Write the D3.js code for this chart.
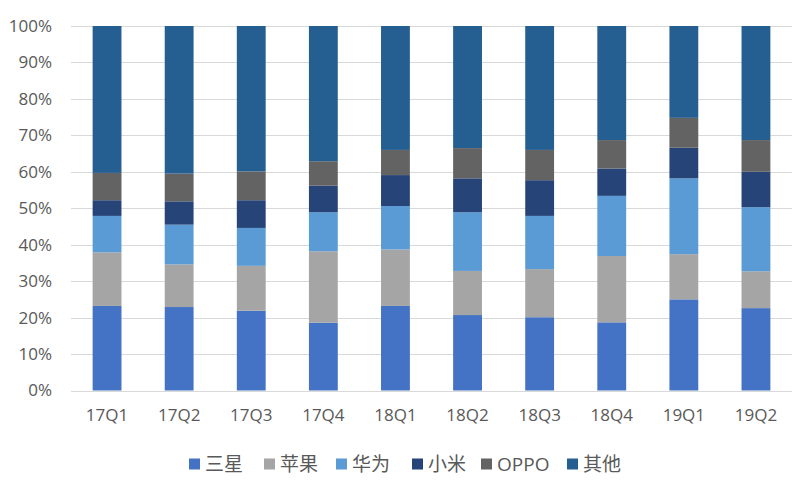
<!DOCTYPE html>
<html>
<head>
<meta charset="utf-8">
<script src="https://cdn.jsdelivr.net/npm/d3@7"></script>
<style>
  body { margin: 0; background: #fff; }
  text { font-family: "Open Sans", "Noto Sans CJK SC", sans-serif; fill: #595959; }
</style>
</head>
<body>
<div id="chart"></div>
<script>
const quarters = ["17Q1", "17Q2", "17Q3", "17Q4", "18Q1", "18Q2", "18Q3", "18Q4", "19Q1", "19Q2"];
const brands = ["三星", "苹果", "华为", "小米", "OPPO", "其他"];
const samsung = [23.2, 22.9, 21.9, 18.6, 23.2, 20.7, 20.1, 18.7, 25.0, 22.6];
const apple   = [14.7, 11.7, 12.3, 19.6, 15.5, 12.1, 13.2, 18.2, 12.4, 10.1];
const huawei  = [10.0, 10.9, 10.4, 10.7, 11.9, 16.1, 14.6, 16.5, 20.8, 17.6];
const xiaomi  = [4.3, 6.4, 7.6, 7.3, 8.5, 9.3, 9.8, 7.5, 8.4, 9.7];
const oppo    = [7.5, 7.6, 7.9, 6.7, 6.9, 8.3, 8.3, 7.8, 8.2, 8.7];
const others  = [40.3, 40.5, 39.9, 37.1, 34.0, 33.5, 34.0, 31.3, 25.2, 31.3];
const yTicks = [0, 10, 20, 30, 40, 50, 60, 70, 80, 90, 100];
const colors = ["#4472C4", "#A5A5A5", "#5B9BD5", "#264478", "#636363", "#255E91"];

const series = [samsung, apple, huawei, xiaomi, oppo, others];
const rows = quarters.map((q, i) => {
    let r = { q: q };
    brands.forEach((b, j) => r[b] = series[j][i]);
    return r;
});

let width = 800;
let height = 482;
let margin = { top: 26, left: 71, bottom: 91.5, right: 8 };
let iwidth = width - margin.left - margin.right;
let iheight = height - margin.top - margin.bottom;

let svg = d3.select("#chart").append("svg")
    .attr("width", width)
    .attr("height", height);
let g = svg.append("g").attr("transform", `translate(${margin.left},${margin.top})`);

let x = d3.scaleBand()
    .domain(quarters)
    .range([0, iwidth])
    .paddingInner(0.6)
    .paddingOuter(0.3);

let y = d3.scaleLinear()
    .domain([0, 100])
    .range([iheight, 0]);

// gridlines
g.append("g")
    .selectAll("line")
    .data(yTicks)
    .enter().append("line")
    .attr("x1", 0)
    .attr("x2", iwidth)
    .attr("y1", d => Math.round(y(d)) + 0.5)
    .attr("y2", d => Math.round(y(d)) + 0.5)
    .attr("stroke", "#d9d9d9")
    .attr("stroke-width", 1);

let stacked = d3.stack().keys(brands)(rows);

g.selectAll("g.layer")
    .data(stacked)
    .enter().append("g")
    .attr("class", "layer")
    .attr("fill", (d, i) => colors[i])
    .selectAll("rect")
    .data(d => d)
    .enter().append("rect")
    .attr("x", d => x(d.data.q))
    .attr("y", d => y(d[1]))
    .attr("height", d => y(d[0]) - y(d[1]))
    .attr("width", x.bandwidth());

// y axis labels
let yAxis = g.append("g")
    .call(d3.axisLeft(y).tickValues(yTicks).tickFormat(d => d + "%").tickSize(0).tickPadding(19));
yAxis.select(".domain").remove();
yAxis.selectAll("text").style("font-size", "17px").attr("fill", "#595959");

// x axis labels
let xAxis = g.append("g")
    .attr("transform", `translate(0, ${iheight})`)
    .call(d3.axisBottom(x).tickSize(0).tickPadding(18));
xAxis.select(".domain").remove();
xAxis.selectAll("text").style("font-size", "17px").attr("fill", "#595959");

// legend
let legendX = [205, 280, 352, 428, 497, 583];
let legend = svg.append("g")
    .selectAll("g")
    .data(brands)
    .enter().append("g")
    .attr("transform", (d, i) => `translate(${legendX[i]}, 464)`);
legend.append("rect")
    .attr("x", -16)
    .attr("y", -5.5)
    .attr("width", 11)
    .attr("height", 11)
    .attr("fill", (d, i) => colors[i]);
legend.append("text")
    .attr("x", 0)
    .attr("y", 0)
    .attr("dy", "0.35em")
    .style("font-size", "19px")
    .text(d => d);
</script>
</body>
</html>
